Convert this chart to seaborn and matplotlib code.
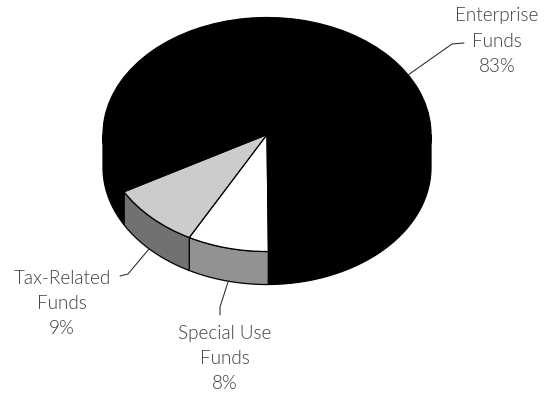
import numpy as np
import matplotlib
matplotlib.use("Agg")
import matplotlib.pyplot as plt
from matplotlib.lines import Line2D
import seaborn as sns

slice_names = ["Special Use\nFunds", "Tax-Related\nFunds", "Enterprise\nFunds"]
slice_values = [8, 9, 83]
top_colors = ["#ffffff", "#cccccc", "#000000"]
side_colors = ["#929292", "#717171", "#000000"]

W, H = 549, 393
CX, CY, RX, RY, DEPTH = 267, 134.5, 164, 117, 33
START = -89.5

sns.set_theme(style="white")
plt.rcParams["font.family"] = ["Lato", "DejaVu Sans"]

fig = plt.figure(figsize=(W / 100, H / 100), dpi=100, facecolor="white")
ax = fig.add_axes([0, 0, 1, 1])

ax.pie(slice_values, startangle=START, counterclock=False, colors=top_colors,
       radius=1, center=(0, 0), normalize=True,
       wedgeprops=dict(edgecolor="black", linewidth=0.9, zorder=3))
ax.set_aspect("auto")
ax.set_xlim(-CX / RX, (W - CX) / RX)
ax.set_ylim(-(H - CY) / RY, CY / RY)
ax.set_axis_off()

# Side wall of each slice, front half only
d = DEPTH / RY
bounds = START - np.cumsum([0] + slice_values) * 3.6
for i, col in enumerate(side_colors):
    a1, a0 = bounds[i], bounds[i + 1]
    for lo, hi in [(a0, a1), (a0 + 360, a1 + 360)]:
        lo2, hi2 = max(lo, -180), min(hi, 0)
        if hi2 <= lo2:
            continue
        t = np.radians(np.linspace(lo2, hi2, 120))
        xs = np.r_[np.cos(t), np.cos(t[::-1])]
        ys = np.r_[np.sin(t), np.sin(t[::-1]) - d]
        ax.fill(xs, ys, facecolor=col, edgecolor="black", linewidth=0.9, zorder=2)


def fx(x):
    return x / W


def fy(y):
    return 1 - y / H


leaders = [
    ([408, 452, 464], [75, 44, 43]),
    ([149, 128, 120], [249, 274, 276]),
    ([228, 220, 220], [282, 307, 315]),
]
for xs, ys in leaders:
    fig.add_artist(Line2D([fx(v) for v in xs], [fy(v) for v in ys],
                          color="#333333", lw=0.8, transform=fig.transFigure))

label_pos = [(225, 333), (62, 278), (497, 16)]
for name, val, (x, y) in zip(slice_names, slice_values, label_pos):
    for k, line in enumerate((name + f"\n{val}%").split("\n")):
        fig.text(fx(x), fy(y + k * 25.3), line, ha="center", va="center",
                 fontsize=13.6, fontweight=300, color="#3c3c3c")

fig.savefig("out.png", dpi=100, facecolor="white")
